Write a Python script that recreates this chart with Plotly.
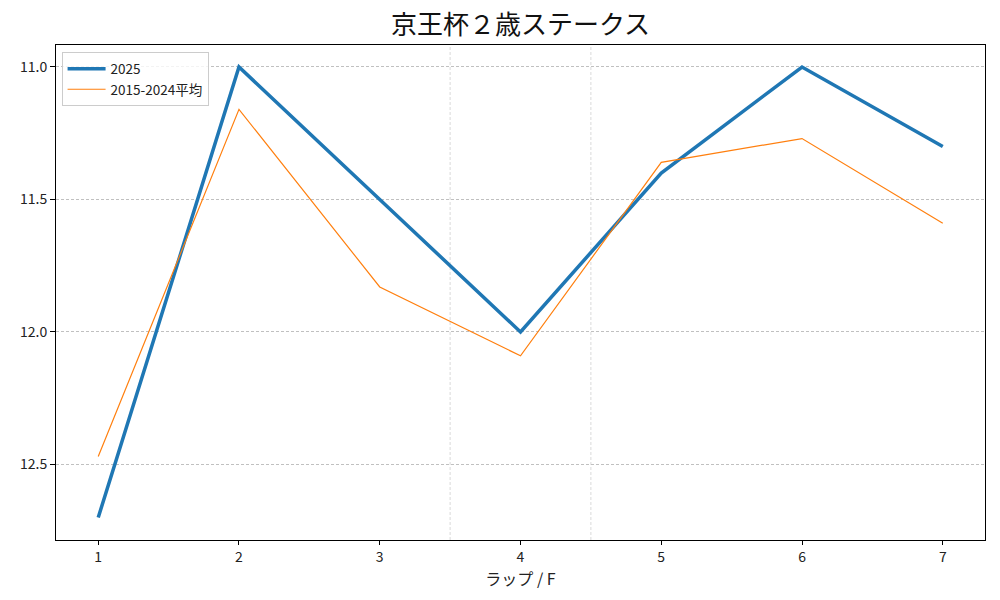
import plotly.graph_objects as go

laps = [1, 2, 3, 4, 5, 6, 7]
y2025 = [12.7, 11.0, 11.5, 12.0, 11.4, 11.0, 11.3]
yavg = [12.47, 11.16, 11.83, 12.09, 11.36, 11.27, 11.59]
series_names = ["2025", "2015-2024平均"]
y_ticks = [11.0, 11.5, 12.0, 12.5]
y_tick_labels = ["11.0", "11.5", "12.0", "12.5"]
marker_lines_x = [3.5, 4.5]
title = "京王杯２歳ステークス"
x_title = "ラップ / F"

FONT = "Noto Sans CJK JP, DejaVu Sans, sans-serif"

fig = go.Figure()
fig.add_trace(go.Scatter(x=laps, y=y2025, mode="lines", name=series_names[0],
                         line=dict(color="#1f77b4", width=3.5)))
fig.add_trace(go.Scatter(x=laps, y=yavg, mode="lines", name=series_names[1],
                         line=dict(color="#ff7f0e", width=1.2)))

for xv in marker_lines_x:
    fig.add_shape(type="line", xref="x", yref="paper", x0=xv, x1=xv, y0=0, y1=1,
                  line=dict(color="#d0d0d0", width=0.8, dash="3px,2px"), layer="below")

fig.update_layout(
    width=1000, height=600,
    margin=dict(l=56, r=15, t=45, b=60, autoexpand=False),
    paper_bgcolor="white", plot_bgcolor="white",
    font=dict(family=FONT, size=14, color="#222"),
    title=dict(text=title, x=0.5, xanchor="center", xref="paper",
               y=1 - 25 / 600, yanchor="middle", yref="container",
               font=dict(size=26, color="#111", family=FONT)),
    showlegend=True,
    legend=dict(x=0.006, y=0.985, xanchor="left", yanchor="top",
                bgcolor="rgba(255,255,255,0.8)", bordercolor="#cccccc", borderwidth=1,
                font=dict(size=13.5), tracegroupgap=0, itemwidth=38),
    xaxis=dict(range=[0.7, 7.3], tickmode="array", tickvals=laps,
               ticktext=[str(v) for v in laps], showgrid=False, zeroline=False,
               showline=True, linecolor="black", linewidth=1, mirror=True,
               ticks="outside", ticklen=4, tickcolor="black", automargin=False,
               title=dict(text=x_title, font=dict(size=16), standoff=4)),
    yaxis=dict(range=[12.785, 10.917], tickmode="array", tickvals=y_ticks,
               ticktext=y_tick_labels, showgrid=True, gridcolor="#c0c0c0",
               griddash="3px,2px", gridwidth=0.7, zeroline=False,
               showline=True, linecolor="black", linewidth=1, mirror=True,
               ticks="outside", ticklen=5, tickcolor="black", automargin=False),
)

fig.write_html("out.html", config={"displayModeBar": False},
               post_script="document.body.style.margin='0px';document.body.style.overflow='hidden';")
